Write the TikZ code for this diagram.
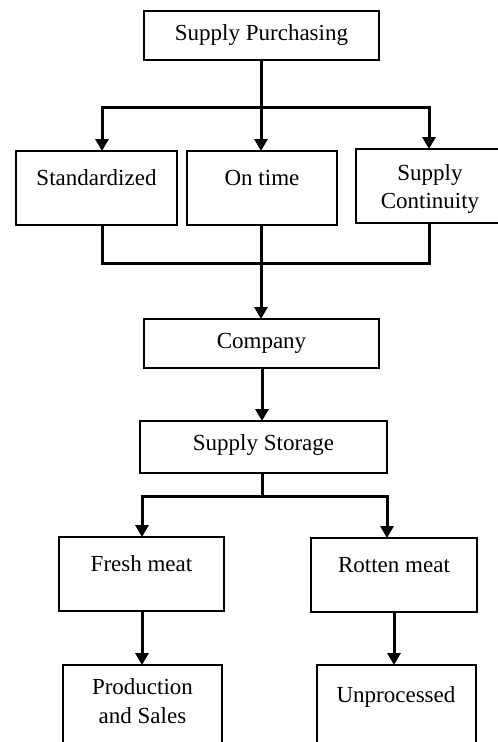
\documentclass[tikz,border=0pt]{standalone}
\usepackage{fontspec}
\setmainfont{Liberation Serif}
\usetikzlibrary{arrows.meta}
\tikzset{
  box/.style={draw, line width=1.6pt, rectangle, anchor=north west, inner sep=0pt, outer sep=0pt},
  txt/.style={anchor=base, inner sep=0pt, font=\fontsize{23}{27}\selectfont},
  conn/.style={line width=3pt},
  arr/.style={line width=3pt, -{Triangle[length=12pt,width=13pt]}}
}
\begin{document}
\begin{tikzpicture}[x=1pt,y=-1pt]
\useasboundingbox (0,0) rectangle (498,742);
\fill[white] (0,0) rectangle (498,742);
\clip (0,0) rectangle (498,742);
% boxes
\node[box, minimum width=235pt, minimum height=49pt] (pur) at (144,11) {};
\node[box, minimum width=161pt, minimum height=74pt] (std) at (16,151) {};
\node[box, minimum width=150pt, minimum height=74pt] (ont) at (187,151) {};
\node[box, minimum width=148pt, minimum height=74pt] (con) at (356,149) {};
\node[box, minimum width=235pt, minimum height=49pt] (com) at (144,319) {};
\node[box, minimum width=247pt, minimum height=52pt] (sto) at (140,421) {};
\node[box, minimum width=165pt, minimum height=74pt] (fre) at (59,537) {};
\node[box, minimum width=166pt, minimum height=74pt] (rot) at (311,538) {};
\node[box, minimum width=159pt, minimum height=120pt] (pro) at (63,665) {};
\node[box, minimum width=159pt, minimum height=120pt] (unp) at (317,665) {};
% texts
\node[txt] (tpur) at (261.5,40.5) {Supply Purchasing};
\node[txt] (tstd) at (96.5,185) {Standardized};
\node[txt] (tont) at (262,185) {On time};
\node[txt] (tcon1) at (430,180) {Supply};
\node[txt] (tcon2) at (430,208) {Continuity};
\node[txt] (tcom) at (261.5,348) {Company};
\node[txt] (tsto) at (263.5,450) {Supply Storage};
\node[txt] (tfre) at (141.5,571) {Fresh meat};
\node[txt] (trot) at (394,572) {Rotten meat};
\node[txt] (tpro1) at (142.5,694) {Production};
\node[txt] (tpro2) at (142.5,723) {and Sales};
\node[txt] (tunp) at (396,702) {Unprocessed};
% top bus
\coordinate (b1) at (261,107);
\coordinate (b1l) at (102,107);
\coordinate (b1r) at (429,107);
\draw[conn] (pur.south -| b1) -- (b1);
\draw[conn, line cap=rect] (b1l) -- (b1r);
\draw[arr] (b1l) -- (b1l |- std.north);
\draw[arr] (b1) -- (b1 |- ont.north);
\draw[arr] (b1r) -- (b1r |- con.north);
% lower bus
\coordinate (b2) at (261,263);
\coordinate (b2l) at (102,263);
\coordinate (b2r) at (429,263);
\draw[conn] (b2l |- std.south) -- (b2l) -- (b2r) -- (b2r |- con.south);
\draw[arr] (b2 |- ont.south) -- (b2 |- com.north);
% company to storage
\coordinate (c1) at (262,368);
\draw[arr] (c1) -- (c1 |- sto.north);
% storage bus
\coordinate (b3) at (262,496);
\coordinate (b3l) at (142,496);
\coordinate (b3r) at (387,496);
\draw[conn] (b3 |- sto.south) -- (b3);
\draw[conn, line cap=rect] (b3l) -- (b3r);
\draw[arr] (b3l) -- (b3l |- fre.north);
\draw[arr] (b3r) -- (b3r |- rot.north);
% to final boxes
\coordinate (d1) at (142,611);
\coordinate (d2) at (394,612);
\draw[arr] (d1) -- (d1 |- pro.north);
\draw[arr] (d2) -- (d2 |- unp.north);
\end{tikzpicture}
\end{document}
